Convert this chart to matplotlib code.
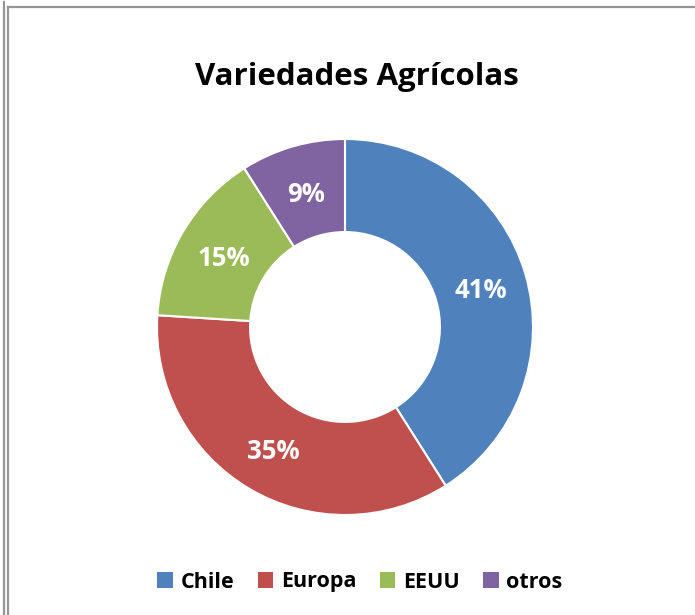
import numpy as np
import matplotlib.pyplot as plt
from matplotlib.lines import Line2D
from matplotlib.patches import Patch

# Data
categories = ["Chile", "Europa", "EEUU", "otros"]
shares = [41, 35, 15, 9]
colors = ["#4F81BD", "#C0504D", "#9BBB59", "#8064A2"]

W, H = 695, 615
fig = plt.figure(figsize=(W / 100, H / 100), dpi=100)
fig.patch.set_facecolor("white")
FONT = "Open Sans"

# outer frame lines (spreadsheet style)
fig.add_artist(Line2D([4 / W, 4 / W], [0, 1 - 2 / H], color="#969696", lw=1.6))
fig.add_artist(Line2D([8 / W, 8 / W], [0, 1 - 7 / H], color="#969696", lw=1.6))
fig.add_artist(Line2D([8 / W, 1], [1 - 7 / H, 1 - 7 / H], color="#969696", lw=1.6))

# donut
cx, cy, r = 345, 327, 188
ax = fig.add_axes([(cx - r) / W, 1 - (cy + r) / H, 2 * r / W, 2 * r / H])
wedges, _ = ax.pie(shares, colors=colors, startangle=90, counterclock=False,
                   radius=1, wedgeprops=dict(width=0.495, edgecolor="white", linewidth=1.5))
ax.set_xlim(-1, 1)
ax.set_ylim(-1, 1)
ax.set_aspect("equal")
ax.axis("off")

for w, v in zip(wedges, shares):
    mid = np.deg2rad((w.theta1 + w.theta2) / 2)
    rr = 0.75
    ax.text(rr * np.cos(mid), rr * np.sin(mid) - 0.015, f"{v}%", color="white",
            fontsize=18.5, fontweight="bold", family=FONT,
            ha="center", va="center")

fig.text(357 / W, 1 - 77 / H, "Variedades Agrícolas", ha="center", va="center",
         fontsize=22.5, fontweight="bold", family=FONT)

handles = [Patch(facecolor=c, edgecolor="none") for c in colors]
leg = fig.legend(handles, categories, loc="center", bbox_to_anchor=(360 / W, 1 - 582 / H),
                 ncol=4, frameon=False, handlelength=0.72, handleheight=0.72,
                 handletextpad=0.35, columnspacing=1.1,
                 prop=dict(family=FONT, weight="bold", size=15.5))

fig.savefig("out.png", dpi=100, facecolor="white")
